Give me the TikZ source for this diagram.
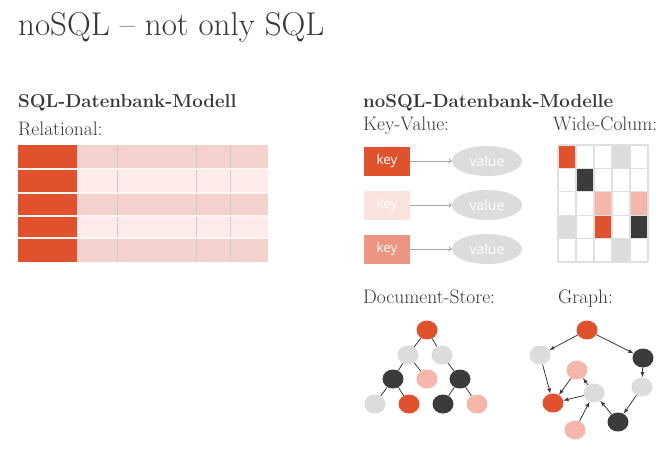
\documentclass[tikz,border=0pt]{standalone}
\usepackage{fontspec}
\usetikzlibrary{shapes.geometric,arrows}

\newfontfamily\keyfont{Open Sans}

\definecolor{sqlred}{HTML}{E0522D}
\definecolor{rowdark}{HTML}{F3D2CE}
\definecolor{rowlight}{HTML}{FCEBE8}
\definecolor{keypale}{HTML}{FBE2DD}
\definecolor{keysalmon}{HTML}{EE9483}
\definecolor{nodesalmon}{HTML}{F4B7AA}
\definecolor{nodegray}{HTML}{DCDCDC}
\definecolor{nodedark}{HTML}{3B3B3B}
\definecolor{textgray}{HTML}{383838}

\tikzset{
  heading/.style={anchor=base west,inner sep=0pt,text=textgray,font=\fontsize{18.7}{22}\selectfont\bfseries},
  label/.style={anchor=base west,inner sep=0pt,text=textgray,font=\fontsize{19.5}{22}\selectfont},
  keybox/.style={minimum width=46pt,minimum height=29pt,inner sep=0pt,text=white,font=\keyfont\fontsize{13.5}{15}\selectfont},
  valnode/.style={ellipse,fill=nodegray,minimum width=70pt,minimum height=30pt,inner sep=0pt,text=white,font=\keyfont\fontsize{14}{16}\selectfont},
  kvarrow/.style={->,draw=gray!70,line width=1pt},
  dot/.style={ellipse,minimum width=21pt,minimum height=19pt,inner sep=0pt},
  treeline/.style={draw=nodedark,line width=0.8pt},
  grapharrow/.style={-latex,draw=nodedark,line width=0.8pt},
  gridline/.style={draw=gray!25,line width=1.2pt}
}

\begin{document}
\begin{tikzpicture}[x=1pt,y=-1pt]

\useasboundingbox (0,0) rectangle (666,451);

\node[anchor=base west,inner sep=0pt,text=textgray,font=\fontsize{33}{38}\selectfont] (title) at (18,35) {noSQL -- not only SQL};

% SQL side
\node[heading] (sqlhead) at (18,107) {SQL-Datenbank-Modell};

\node[label] (relational) at (18,135) {Relational:};

\fill[sqlred] (18,145) rectangle (77,262);

\fill[rowdark] (77,145) rectangle (268,169);
\fill[rowlight] (77,169) rectangle (268,193);
\fill[rowdark] (77,193) rectangle (268,216);
\fill[rowlight] (77,216) rectangle (268,238);
\fill[rowdark] (77,238) rectangle (268,262);

\foreach \x in {117,196,230}
  \draw[gray!40,line width=0.8pt] (\x,145) -- (\x,262);

\foreach \y in {169,193,216,238}
  \draw[white!75!rowdark,line width=1.2pt] (18,\y) -- (268,\y);

% noSQL side
\node[heading] (nosqlhead) at (363,107) {noSQL-Datenbank-Modelle};

\node[label] (keyvalue) at (363,130) {Key-Value:};

\node[label] (widecol) at (553,130) {Wide-Colum:};

\node[keybox,fill=sqlred] (key1) at (387,161) {key};
\node[keybox,fill=keypale] (key2) at (387,205) {key};
\node[keybox,fill=keysalmon] (key3) at (387,249) {key};

\node[valnode] (val1) at (487,161) {value};
\node[valnode] (val2) at (487,205) {value};
\node[valnode] (val3) at (487,249) {value};

\draw[kvarrow] (key1) -- (val1);
\draw[kvarrow] (key2) -- (val2);
\draw[kvarrow] (key3) -- (val3);

\foreach \c/\r/\col in {1/1/sqlred,4/1/nodegray,2/2/nodedark,3/3/nodesalmon,5/3/nodesalmon,1/4/nodegray,3/4/sqlred,5/4/nodedark,4/5/nodegray}
  \fill[\col] ({558+18*(\c-1)},{145+23.4*(\r-1)}) rectangle ++(18,23.4);

\foreach \i in {0,...,5}
  \draw[gridline] ({558+18*\i},145) -- ++(0,117);

\foreach \j in {0,...,5}
  \draw[gridline] (558,{145+23.4*\j}) -- ++(90,0);

\node[label] (docstore) at (363,303) {Document-Store:};

\node[label] (graph) at (558,303) {Graph:};

% document tree
\node[dot,fill=sqlred] (root) at (427,330) {};
\node[dot,fill=nodegray] (docl) at (408,355) {};
\node[dot,fill=nodegray] (docr) at (442,355) {};
\node[dot,fill=nodedark] (docll) at (393,379) {};
\node[dot,fill=nodesalmon] (doclr) at (427,379) {};
\node[dot,fill=nodedark] (docrr) at (460,379) {};
\node[dot,fill=nodegray] (leafa) at (375,404) {};
\node[dot,fill=sqlred] (leafb) at (409,404) {};
\node[dot,fill=nodedark] (leafc) at (443,404) {};
\node[dot,fill=nodesalmon] (leafd) at (477,404) {};

\draw[treeline] (root) -- (docl);
\draw[treeline] (root) -- (docr);
\draw[treeline] (docl) -- (docll);
\draw[treeline] (docl) -- (doclr);
\draw[treeline] (docr) -- (docrr);
\draw[treeline] (docll) -- (leafa);
\draw[treeline] (docll) -- (leafb);
\draw[treeline] (docrr) -- (leafc);
\draw[treeline] (docrr) -- (leafd);

% graph
\node[dot,fill=sqlred] (gtop) at (587,330) {};
\node[dot,fill=nodegray] (gleft) at (540,355) {};
\node[dot,fill=nodedark] (gright) at (643,358) {};
\node[dot,fill=nodesalmon] (gpink) at (577,370) {};
\node[dot,fill=nodegray] (gside) at (642,387) {};
\node[dot,fill=nodegray] (gmid) at (594,393) {};
\node[dot,fill=sqlred] (gred) at (553,403) {};
\node[dot,fill=nodedark] (gdark) at (618,422) {};
\node[dot,fill=nodesalmon] (gbottom) at (575,430) {};

\draw[grapharrow] (gtop) -- (gleft);
\draw[grapharrow] (gtop) -- (gright);
\draw[grapharrow] (gleft) -- (gred);
\draw[grapharrow] (gright) -- (gside);
\draw[grapharrow] (gside) -- (gdark);
\draw[grapharrow] (gdark) -- (gmid);
\draw[grapharrow] (gbottom) -- (gmid);
\draw[grapharrow] (gmid) -- (gpink);
\draw[grapharrow] (gmid) -- (gred);
\draw[grapharrow] (gpink) -- (gred);

\end{tikzpicture}
\end{document}
